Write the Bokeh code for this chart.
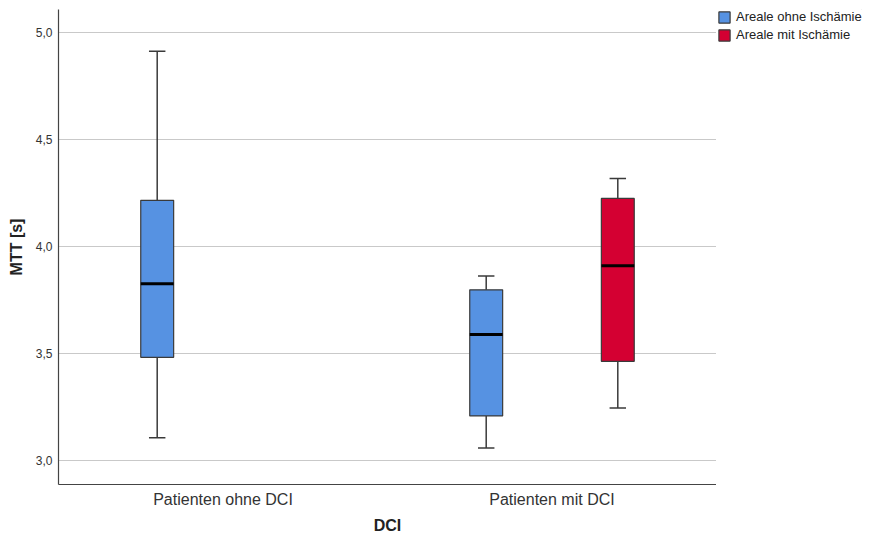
from bokeh.plotting import figure
from bokeh.layouts import row
from bokeh.models import ColumnDataSource, Legend, LegendItem, FixedTicker, Range1d
from bokeh.transform import dodge
from bokeh.embed import file_html
from bokeh.resources import INLINE

categories = ["Patienten ohne DCI", "Patienten mit DCI"]
series_names = ["Areale ohne Ischämie", "Areale mit Ischämie"]
series_colors = ["#5692e2", "#d40032"]

# Areale ohne Ischämie
ohne_groups = ["Patienten ohne DCI", "Patienten mit DCI"]
ohne_low = [3.107, 3.060]
ohne_q1 = [3.483, 3.209]
ohne_med = [3.826, 3.589]
ohne_q3 = [4.216, 3.798]
ohne_high = [4.912, 3.863]

# Areale mit Ischämie
mit_groups = ["Patienten mit DCI"]
mit_low = [3.246]
mit_q1 = [3.464]
mit_med = [3.910]
mit_q3 = [4.225]
mit_high = [4.318]

y_ticks = [3.0, 3.5, 4.0, 4.5, 5.0]
y_tick_labels = ["3,0", "3,5", "4,0", "4,5", "5,0"]

FONT = "Liberation Sans"
EDGE = "#3a3a3a"

p = figure(width=716, height=536, x_range=categories, y_range=Range1d(2.889, 5.107),
           output_backend="svg", toolbar_location=None,
           min_border_left=58, min_border_right=0, min_border_top=7, min_border_bottom=51)

p.outline_line_color = None
p.background_fill_color = "white"
p.xgrid.grid_line_color = None
p.ygrid.grid_line_color = "#c9c9c9"
p.ygrid.grid_line_width = 1

p.yaxis.ticker = FixedTicker(ticks=y_ticks)
p.yaxis.major_label_overrides = {t: l for t, l in zip(y_ticks, y_tick_labels)}
p.yaxis.minor_tick_line_color = None
p.yaxis.major_tick_in = 0
p.yaxis.major_tick_out = 0
p.yaxis.major_label_standoff = 6
p.yaxis.axis_label = "MTT [s]"
p.yaxis.axis_label_standoff = 8

p.xaxis.major_tick_in = 0
p.xaxis.major_tick_out = 0
p.xaxis.major_label_standoff = 6
p.xaxis.axis_label = "DCI"
p.xaxis.axis_label_standoff = 6

for ax in (p.xaxis, p.yaxis):
    ax.axis_line_color = "#444444"
    ax.axis_line_width = 1.2
    ax.axis_label_text_font = FONT
    ax.axis_label_text_font_style = "bold"
    ax.axis_label_text_font_size = "16px"
    ax.axis_label_text_color = "#222222"
    ax.major_label_text_font = FONT
    ax.major_label_text_color = "#333333"
p.yaxis.major_label_text_font_size = "12px"
p.xaxis.major_label_text_font_size = "16px"

specs = [
    (ohne_groups, ohne_low, ohne_q1, ohne_med, ohne_q3, ohne_high, -0.2, series_colors[0]),
    (mit_groups, mit_low, mit_q1, mit_med, mit_q3, mit_high, 0.2, series_colors[1]),
]
for groups, low, q1, med, q3, high, off, color in specs:
    src = ColumnDataSource(dict(g=groups, low=low, q1=q1, med=med, q3=q3, high=high))
    xd = dodge("g", off, range=p.x_range)
    xl_cap = dodge("g", off - 0.025, range=p.x_range)
    xr_cap = dodge("g", off + 0.025, range=p.x_range)
    xl_box = dodge("g", off - 0.05, range=p.x_range)
    xr_box = dodge("g", off + 0.05, range=p.x_range)
    p.segment(x0=xd, y0="q3", x1=xd, y1="high", source=src, line_color=EDGE, line_width=1.5)
    p.segment(x0=xd, y0="low", x1=xd, y1="q1", source=src, line_color=EDGE, line_width=1.5)
    p.segment(x0=xl_cap, y0="high", x1=xr_cap, y1="high", source=src, line_color=EDGE, line_width=1.5)
    p.segment(x0=xl_cap, y0="low", x1=xr_cap, y1="low", source=src, line_color=EDGE, line_width=1.5)
    p.vbar(x=xd, width=0.1, bottom="q1", top="q3", source=src,
           fill_color=color, line_color=EDGE, line_width=1.2)
    p.segment(x0=xl_box, y0="med", x1=xr_box, y1="med", source=src, line_color="#000000", line_width=3)

# Legend panel to the right of the plot (proxy glyphs lie outside its visible range)
lp = figure(width=146, height=536, output_backend="svg", toolbar_location=None,
            x_axis_type=None, y_axis_type=None, x_range=(0, 1), y_range=(0, 1),
            min_border_left=1, min_border_right=0, min_border_top=9, min_border_bottom=0)
lp.outline_line_color = None
lp.xgrid.grid_line_color = None
lp.ygrid.grid_line_color = None
items = []
for name, color in zip(series_names, series_colors):
    r = lp.vbar(x=[10], top=[11], bottom=[10], width=0.1,
                fill_color=color, line_color=EDGE, line_width=1.2)
    items.append(LegendItem(label=name, renderers=[r]))

legend = Legend(items=items, location="top_left", orientation="vertical")
legend.label_text_font = FONT
legend.label_text_font_size = "13px"
legend.label_text_color = "#222222"
legend.glyph_width = 14
legend.glyph_height = 14
legend.label_height = 15
legend.label_standoff = 5
legend.spacing = 3
legend.padding = 0
legend.margin = 0
legend.border_line_color = None
legend.background_fill_alpha = 0
lp.add_layout(legend)

layout = row(p, lp, spacing=0)
open("out.html", "w").write(file_html(layout, INLINE))
